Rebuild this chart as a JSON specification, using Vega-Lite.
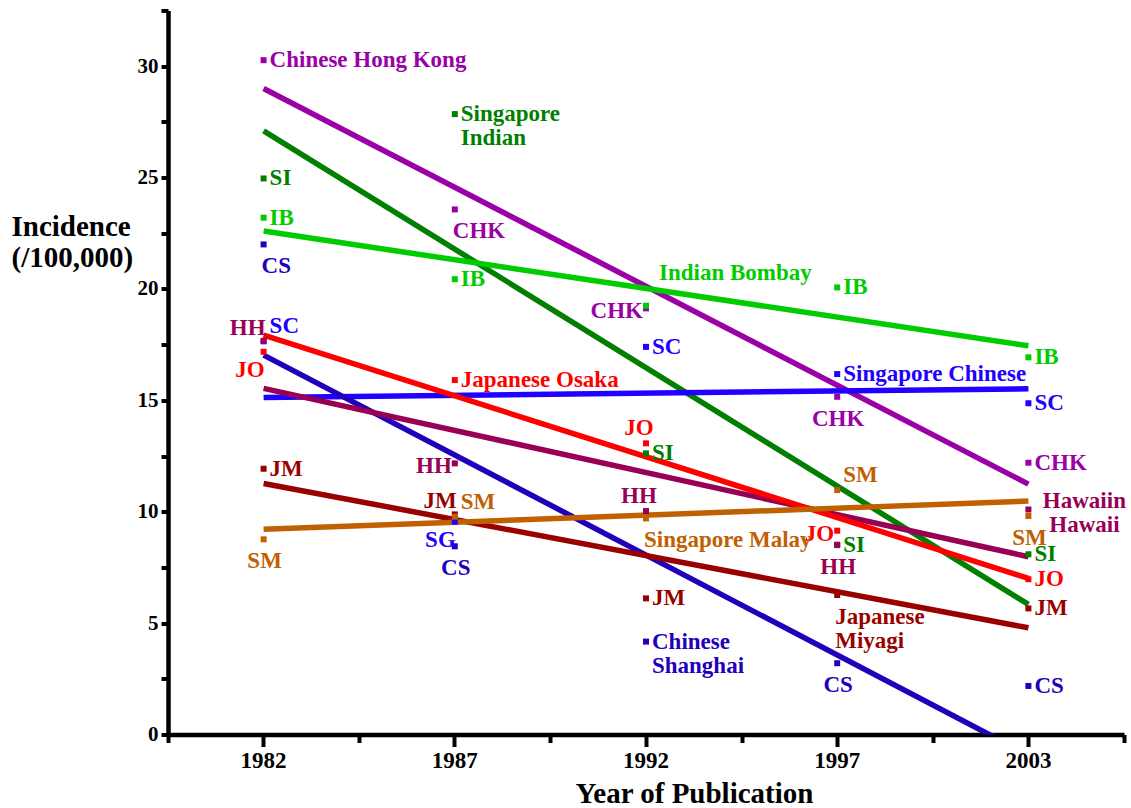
{
  "$schema": "https://vega.github.io/schema/vega-lite/v6.json",
  "width": 956,
  "height": 724,
  "autosize": {"type": "none"},
  "padding": {"left": 168, "top": 10.5, "right": 7, "bottom": 73.5},
  "background": "white",
  "config": {
    "view": {"stroke": null},
    "font": "Liberation Serif",
    "axis": {"grid": false, "domainColor": "black", "domainWidth": 4.5, "tickColor": "black", "tickWidth": 4, "tickSize": 7, "tickCap": "butt", "labelFont": "Liberation Serif", "labelFontWeight": "bold", "labelColor": "black", "titleFont": "Liberation Serif", "titleFontWeight": "bold", "titleColor": "black"},
    "text": {"font": "Liberation Serif", "fontWeight": "bold", "fontSize": 23, "lineHeight": 24, "lineBreak": "\n", "baseline": "top"}
  },
  "datasets": {
    "fits": [
      {"series": "CHK", "year": "1982", "value": 29.0}, {"series": "CHK", "year": "2003", "value": 11.24},
      {"series": "SI", "year": "1982", "value": 27.1}, {"series": "SI", "year": "2003", "value": 5.84},
      {"series": "IB", "year": "1982", "value": 22.6}, {"series": "IB", "year": "2003", "value": 17.45},
      {"series": "SC", "year": "1982", "value": 15.13}, {"series": "SC", "year": "2003", "value": 15.52},
      {"series": "CS", "year": "1982", "value": 17.03}, {"series": "CS", "year": "2003", "value": -0.92},
      {"series": "HH", "year": "1982", "value": 15.54}, {"series": "HH", "year": "2003", "value": 7.98},
      {"series": "JO", "year": "1982", "value": 17.93}, {"series": "JO", "year": "2003", "value": 7.01},
      {"series": "JM", "year": "1982", "value": 11.27}, {"series": "JM", "year": "2003", "value": 4.79},
      {"series": "SM", "year": "1982", "value": 9.21}, {"series": "SM", "year": "2003", "value": 10.48}
    ],
    "pts": [
      {"series": "CHK", "year": "1982", "value": 30.27, "label": "Chinese Hong Kong", "side": "r"},
      {"series": "CHK", "year": "1987", "value": 23.57, "label": "CHK", "side": "br"},
      {"series": "CHK", "year": "1992", "value": 19.13, "label": "CHK", "side": "l"},
      {"series": "CHK", "year": "1997", "value": 15.16, "label": "CHK", "side": "b"},
      {"series": "CHK", "year": "2003", "value": 12.2, "label": "CHK", "side": "r"},
      {"series": "SI", "year": "1982", "value": 24.96, "label": "SI", "side": "r"},
      {"series": "SI", "year": "1987", "value": 27.85, "label": "Singapore\nIndian", "side": "r"},
      {"series": "SI", "year": "1992", "value": 12.62, "label": "SI", "side": "r"},
      {"series": "SI", "year": "1997", "value": 8.5, "label": "SI", "side": "r"},
      {"series": "SI", "year": "2003", "value": 8.09, "label": "SI", "side": "r"},
      {"series": "IB", "year": "1982", "value": 23.2, "label": "IB", "side": "r"},
      {"series": "IB", "year": "1987", "value": 20.44, "label": "IB", "side": "r"},
      {"series": "IB", "year": "1992", "value": 19.25, "label": "Indian Bombay", "side": "rh"},
      {"series": "IB", "year": "1997", "value": 20.07, "label": "IB", "side": "r"},
      {"series": "IB", "year": "2003", "value": 16.93, "label": "IB", "side": "r"},
      {"series": "CS", "year": "1982", "value": 22.0, "label": "CS", "side": "br"},
      {"series": "CS", "year": "1987", "value": 8.45, "label": "CS", "side": "b"},
      {"series": "CS", "year": "1992", "value": 4.17, "label": "Chinese\nShanghai", "side": "r"},
      {"series": "CS", "year": "1997", "value": 3.2, "label": "CS", "side": "b"},
      {"series": "CS", "year": "2003", "value": 2.18, "label": "CS", "side": "r"},
      {"series": "SC", "year": "1982", "value": 17.65, "label": "SC", "side": "ra"},
      {"series": "SC", "year": "1987", "value": 9.55, "label": "SG", "side": "lb"},
      {"series": "SC", "year": "1992", "value": 17.4, "label": "SC", "side": "r"},
      {"series": "SC", "year": "1997", "value": 16.18, "label": "Singapore Chinese", "side": "r"},
      {"series": "SC", "year": "2003", "value": 14.87, "label": "SC", "side": "r"},
      {"series": "HH", "year": "1982", "value": 17.67, "label": "HH", "side": "la"},
      {"series": "HH", "year": "1987", "value": 12.17, "label": "HH", "side": "l"},
      {"series": "HH", "year": "1992", "value": 10.03, "label": "HH", "side": "a"},
      {"series": "HH", "year": "1997", "value": 8.52, "label": "HH", "side": "b"},
      {"series": "HH", "year": "2003", "value": 10.1, "label": "Hawaiin\nHawaii", "side": "rc"},
      {"series": "JO", "year": "1982", "value": 17.18, "label": "JO", "side": "lb"},
      {"series": "JO", "year": "1987", "value": 15.91, "label": "Japanese Osaka", "side": "r"},
      {"series": "JO", "year": "1992", "value": 13.07, "label": "JO", "side": "a"},
      {"series": "JO", "year": "1997", "value": 9.15, "label": "JO", "side": "l"},
      {"series": "JO", "year": "2003", "value": 6.97, "label": "JO", "side": "r"},
      {"series": "JM", "year": "1982", "value": 11.93, "label": "JM", "side": "r"},
      {"series": "JM", "year": "1987", "value": 9.88, "label": "JM", "side": "la"},
      {"series": "JM", "year": "1992", "value": 6.11, "label": "JM", "side": "r"},
      {"series": "JM", "year": "1997", "value": 6.26, "label": "Japanese\nMiyagi", "side": "br"},
      {"series": "JM", "year": "2003", "value": 5.66, "label": "JM", "side": "r"},
      {"series": "SM", "year": "1982", "value": 8.76, "label": "SM", "side": "b"},
      {"series": "SM", "year": "1987", "value": 9.78, "label": "SM", "side": "ra"},
      {"series": "SM", "year": "1992", "value": 9.7, "label": "Singapore Malay", "side": "br"},
      {"series": "SM", "year": "1997", "value": 10.97, "label": "SM", "side": "ra"},
      {"series": "SM", "year": "2003", "value": 9.81, "label": "SM", "side": "b"}
    ]
  },
  "resolve": {"axis": {"x": "independent"}},
  "layer": [
    {
      "data": {"name": "fits"},
      "mark": {"type": "line", "strokeWidth": 5.5, "clip": true, "strokeCap": "butt"},
      "encoding": {
        "x": {"field": "year", "type": "ordinal", "bandPosition": 0.5,
          "scale": {"type": "band", "domain": ["1982", "1987", "1992", "1997", "2003"], "paddingInner": 0, "paddingOuter": 0},
          "axis": {"orient": "bottom", "title": "Year of Publication", "labelAngle": 0, "labelFontSize": 23, "labelPadding": 3, "labelBaseline": "top",
            "domainWidth": 4.5, "domainColor": "black", "tickWidth": 4, "tickSize": 12, "tickColor": "black",
            "titleFontSize": 29, "titleX": 526, "titleY": 68, "titleBaseline": "alphabetic", "titleAlign": "center", "titleAnchor": null}},
        "y": {"field": "value", "type": "quantitative",
          "scale": {"domain": [0, 32.5], "nice": false, "zero": false},
          "axis": {"values": [0, 2.5, 5, 7.5, 10, 12.5, 15, 17.5, 20, 22.5, 25, 27.5, 30, 32.5],
            "labelExpr": "datum.value % 5 === 0 ? datum.label : ''", "labelFontSize": 21, "labelPadding": 3,
            "domainWidth": 4.5, "domainColor": "black", "tickWidth": 4, "tickSize": 7, "tickColor": "black",
            "title": ["Incidence", "(/100,000)"], "titleAngle": 0, "titleAlign": "left", "titleBaseline": "alphabetic",
            "titleX": -157, "titleY": 224.5, "titleFontSize": 29, "titleLineHeight": 31, "titleAnchor": null}},
        "color": {"field": "series", "type": "nominal",
          "scale": {"domain": ["CHK", "SI", "IB", "CS", "SC", "HH", "JO", "JM", "SM"], "range": ["#9900A6", "#007F00", "#00CC00", "#2200BB", "#2200FF", "#990055", "#FF0000", "#990000", "#C06000"]},
          "legend": null},
        "detail": {"field": "series"}
      }
    },
    {
      "data": {"name": "pts"},
      "mark": {"type": "square", "size": 36, "filled": true, "opacity": 1},
      "encoding": {
        "x": {"field": "year", "type": "ordinal", "bandPosition": 0.5,
          "axis": {"orient": "bottom", "tickBand": "extent", "labels": false, "domain": false, "title": null, "tickWidth": 4, "tickSize": 8, "tickColor": "black"}},
        "y": {"field": "value", "type": "quantitative"},
        "color": {"field": "series", "type": "nominal", "legend": null}
      }
    },
    {
      "data": {"name": "pts"},
      "transform": [{"filter": "datum.side === 'r'"}],
      "mark": {"type": "text", "align": "left", "dx": 6, "dy": -11},
      "encoding": {
        "x": {"field": "year", "type": "ordinal", "bandPosition": 0.5, "axis": null},
        "y": {"field": "value", "type": "quantitative"},
        "text": {"field": "label"},
        "color": {"field": "series", "type": "nominal", "legend": null}
      }
    },
    {
      "data": {"name": "pts"},
      "transform": [{"filter": "datum.side === 'rc'"}],
      "mark": {"type": "text", "align": "center", "dx": 56, "dy": -20},
      "encoding": {
        "x": {"field": "year", "type": "ordinal", "bandPosition": 0.5, "axis": null},
        "y": {"field": "value", "type": "quantitative"},
        "text": {"field": "label"},
        "color": {"field": "series", "type": "nominal", "legend": null}
      }
    },
    {
      "data": {"name": "pts"},
      "transform": [{"filter": "datum.side === 'ra'"}],
      "mark": {"type": "text", "align": "left", "dx": 6, "dy": -26},
      "encoding": {
        "x": {"field": "year", "type": "ordinal", "bandPosition": 0.5, "axis": null},
        "y": {"field": "value", "type": "quantitative"},
        "text": {"field": "label"},
        "color": {"field": "series", "type": "nominal", "legend": null}
      }
    },
    {
      "data": {"name": "pts"},
      "transform": [{"filter": "datum.side === 'rh'"}],
      "mark": {"type": "text", "align": "left", "dx": 13, "dy": -44},
      "encoding": {
        "x": {"field": "year", "type": "ordinal", "bandPosition": 0.5, "axis": null},
        "y": {"field": "value", "type": "quantitative"},
        "text": {"field": "label"},
        "color": {"field": "series", "type": "nominal", "legend": null}
      }
    },
    {
      "data": {"name": "pts"},
      "transform": [{"filter": "datum.side === 'l'"}],
      "mark": {"type": "text", "align": "right", "dx": -3, "dy": -8},
      "encoding": {
        "x": {"field": "year", "type": "ordinal", "bandPosition": 0.5, "axis": null},
        "y": {"field": "value", "type": "quantitative"},
        "text": {"field": "label"},
        "color": {"field": "series", "type": "nominal", "legend": null}
      }
    },
    {
      "data": {"name": "pts"},
      "transform": [{"filter": "datum.side === 'la'"}],
      "mark": {"type": "text", "align": "right", "dx": 2, "dy": -24},
      "encoding": {
        "x": {"field": "year", "type": "ordinal", "bandPosition": 0.5, "axis": null},
        "y": {"field": "value", "type": "quantitative"},
        "text": {"field": "label"},
        "color": {"field": "series", "type": "nominal", "legend": null}
      }
    },
    {
      "data": {"name": "pts"},
      "transform": [{"filter": "datum.side === 'lb'"}],
      "mark": {"type": "text", "align": "right", "dx": 1, "dy": 7},
      "encoding": {
        "x": {"field": "year", "type": "ordinal", "bandPosition": 0.5, "axis": null},
        "y": {"field": "value", "type": "quantitative"},
        "text": {"field": "label"},
        "color": {"field": "series", "type": "nominal", "legend": null}
      }
    },
    {
      "data": {"name": "pts"},
      "transform": [{"filter": "datum.side === 'a'"}],
      "mark": {"type": "text", "align": "center", "dx": -7, "dy": -26},
      "encoding": {
        "x": {"field": "year", "type": "ordinal", "bandPosition": 0.5, "axis": null},
        "y": {"field": "value", "type": "quantitative"},
        "text": {"field": "label"},
        "color": {"field": "series", "type": "nominal", "legend": null}
      }
    },
    {
      "data": {"name": "pts"},
      "transform": [{"filter": "datum.side === 'b'"}],
      "mark": {"type": "text", "align": "center", "dx": 1, "dy": 11},
      "encoding": {
        "x": {"field": "year", "type": "ordinal", "bandPosition": 0.5, "axis": null},
        "y": {"field": "value", "type": "quantitative"},
        "text": {"field": "label"},
        "color": {"field": "series", "type": "nominal", "legend": null}
      }
    },
    {
      "data": {"name": "pts"},
      "transform": [{"filter": "datum.side === 'br'"}],
      "mark": {"type": "text", "align": "left", "dx": -2, "dy": 11},
      "encoding": {
        "x": {"field": "year", "type": "ordinal", "bandPosition": 0.5, "axis": null},
        "y": {"field": "value", "type": "quantitative"},
        "text": {"field": "label"},
        "color": {"field": "series", "type": "nominal", "legend": null}
      }
    }
  ]
}
